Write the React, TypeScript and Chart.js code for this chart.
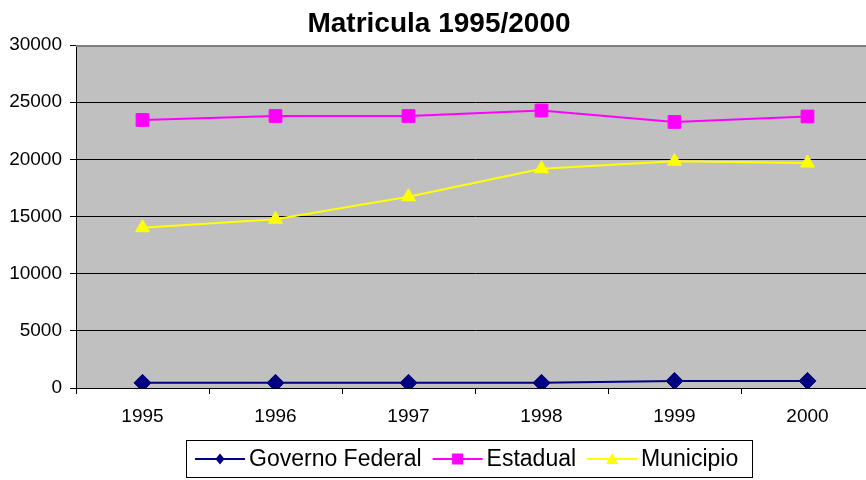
import { useEffect, useRef } from "react";
import { Chart, registerables } from "chart.js";

Chart.register(...registerables);

const years = ["1995", "1996", "1997", "1998", "1999", "2000"];
const governoFederal = [450, 450, 450, 450, 620, 620];
const estadual = [23440, 23790, 23790, 24270, 23270, 23750];
const municipio = [14020, 14760, 16730, 19180, 19830, 19680];
const seriesNames = ["Governo Federal", "Estadual", "Municipio"];
const seriesColors = ["#000080", "#FF00FF", "#FFFF00"];
const seriesMarkers = ["rectRot", "rect", "triangle"];
const chartTitle = "Matricula 1995/2000";
const yMin = 0;
const yMax = 30000;
const yStep = 5000;

const FONT = "'Liberation Sans', Arial, sans-serif";

const decorPlugin = {
  id: "decor",
  beforeDraw(chart: any) {
    const { ctx, chartArea } = chart;
    ctx.save();
    ctx.fillStyle = "#C0C0C0";
    ctx.fillRect(chartArea.left, chartArea.top, chartArea.right - chartArea.left, chartArea.bottom - chartArea.top);
    ctx.restore();
  },
  afterDraw(chart: any) {
    const { ctx, chartArea } = chart;
    ctx.save();
    // top border of plot
    ctx.strokeStyle = "#808080";
    ctx.lineWidth = 2;
    ctx.beginPath();
    ctx.moveTo(chartArea.left, chartArea.top + 1);
    ctx.lineTo(chartArea.right, chartArea.top + 1);
    ctx.stroke();

    // title
    ctx.fillStyle = "#000";
    ctx.font = `bold 28px ${FONT}`;
    ctx.textAlign = "center";
    ctx.textBaseline = "alphabetic";
    ctx.fillText(chartTitle, 439, 32);

    // legend
    const boxL = 186.5, boxT = 440.5, boxR = 752.5, boxB = 477.5;
    ctx.fillStyle = "#fff";
    ctx.fillRect(boxL, boxT, boxR - boxL, boxB - boxT);
    ctx.strokeStyle = "#000";
    ctx.lineWidth = 1;
    ctx.strokeRect(boxL, boxT, boxR - boxL, boxB - boxT);
    ctx.font = `23px ${FONT}`;
    ctx.textAlign = "left";
    ctx.textBaseline = "middle";
    let x = 195;
    const cy = 459;
    seriesNames.forEach((name, i) => {
      const color = seriesColors[i];
      ctx.strokeStyle = color;
      ctx.lineWidth = 2;
      ctx.beginPath();
      ctx.moveTo(x, cy);
      ctx.lineTo(x + 50, cy);
      ctx.stroke();
      const mx = x + 25;
      ctx.fillStyle = color;
      ctx.beginPath();
      if (seriesMarkers[i] === "rectRot") {
        ctx.moveTo(mx, cy - 5.5);
        ctx.lineTo(mx + 4.5, cy);
        ctx.lineTo(mx, cy + 5.5);
        ctx.lineTo(mx - 4.5, cy);
        ctx.closePath();
      } else if (seriesMarkers[i] === "rect") {
        ctx.rect(mx - 5.5, cy - 5.5, 11, 11);
      } else {
        ctx.moveTo(mx, cy - 6);
        ctx.lineTo(mx + 6, cy + 5);
        ctx.lineTo(mx - 6, cy + 5);
        ctx.closePath();
      }
      ctx.fill();
      ctx.fillStyle = "#000";
      const tx = x + 54;
      ctx.fillText(name, tx, cy + 1);
      x = tx + ctx.measureText(name).width + 11;
    });
    ctx.restore();
  },
};

export default function App() {
  const ref = useRef<HTMLCanvasElement | null>(null);
  useEffect(() => {
    if (!ref.current) return;
    const data = [governoFederal, estadual, municipio];
    const chart = new Chart(ref.current, {
      type: "line",
      data: {
        labels: years,
        datasets: seriesNames.map((name, i) => ({
          label: name,
          data: data[i],
          borderColor: seriesColors[i],
          backgroundColor: seriesColors[i],
          pointBackgroundColor: seriesColors[i],
          pointBorderColor: seriesColors[i],
          pointBorderWidth: 1,
          borderWidth: 2,
          pointStyle: seriesMarkers[i] as any,
          pointRadius: i === 0 ? 8.5 : i === 1 ? 9 : 8,
          tension: 0,
          fill: false,
        })),
      },
      options: {
        responsive: true,
        maintainAspectRatio: false,
        animation: false,
        layout: { padding: { top: 45, left: 0, right: 0, bottom: 0 } },
        plugins: {
          legend: { display: false },
          title: { display: false },
          tooltip: { enabled: false },
        },
        scales: {
          x: {
            offset: true,
            afterFit: (s: any) => {
              s.height = 92;
              s.paddingLeft = 0;
              s.paddingRight = 0;
            },
            grid: {
              offset: true,
              drawOnChartArea: false,
              drawTicks: true,
              tickLength: 6,
              tickColor: "#000",
              color: "#000",
            },
            border: { color: "#000", width: 1 },
            ticks: {
              color: "#000",
              font: { family: FONT, size: 19 },
              padding: 11,
              maxRotation: 0,
            },
          },
          y: {
            min: yMin,
            max: yMax,
            afterFit: (s: any) => {
              s.width = 76;
            },
            grid: {
              color: "#000",
              lineWidth: 1,
              tickLength: 6,
              tickColor: "#000",
            },
            border: { color: "#000", width: 1 },
            ticks: {
              stepSize: yStep,
              color: "#000",
              font: { family: FONT, size: 19 },
              padding: 8,
              callback: (v: any) => String(v),
            },
          },
        },
      },
      plugins: [decorPlugin],
    });
    return () => chart.destroy();
  }, []);
  return (
    <div style={{ position: "fixed", left: 0, top: 0, width: 866, height: 480, overflow: "hidden", background: "#fff" }}>
      <div style={{ position: "relative", width: 884, height: 480 }}>
        <canvas ref={ref} />
      </div>
    </div>
  );
}
